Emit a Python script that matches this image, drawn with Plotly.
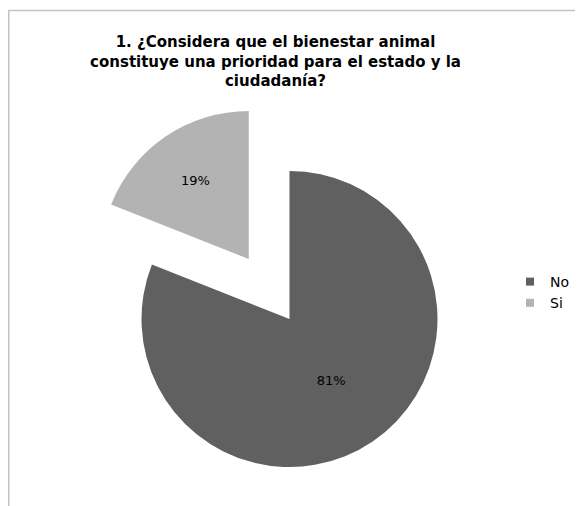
import math
import plotly.graph_objects as go

# ---- data ----
labels = ["No", "Si"]
values = [81, 19]
colors = ["#606060", "#b3b3b3"]
title_lines = [
    "1. ¿Considera que el bienestar animal",
    "constituye una prioridad para el estado y la",
    "ciudadanía?",
]

# ---- layout constants ----
W, H = 583, 506
OFF = 8              # page body margin that shifts the figure on screen
R = 148              # pie radius (px)
CX, CY = 289.5 - OFF, 319 - OFF   # centre of main pie (px from top-left of figure)
PULL_SI = 0.49       # explosion of the "Si" slice, fraction of radius
FONT = "DejaVu Sans"
TRANSPARENT = "rgba(0,0,0,0)"


def dom(cx, cy, r):
    return dict(x=[(cx - r) / W, (cx + r) / W],
                y=[(H - cy - r) / H, (H - cy + r) / H])


total = sum(values)
# "Si" is the last slice (clockwise from 12 o'clock): its bisector lies
# counter-clockwise from 12 o'clock by half of its angular share
half = math.pi * values[1] / total
sx = CX - PULL_SI * R * math.sin(half)
sy = CY - PULL_SI * R * math.cos(half)

common = dict(
    labels=labels,
    values=values,
    sort=False,
    direction="clockwise",
    rotation=0,
    textposition="inside",
    insidetextorientation="horizontal",
    textfont=dict(family=FONT, size=13, color="#000000"),
    showlegend=False,
    hoverinfo="label+percent",
)

fig = go.Figure()
# main pie: "No" slice
fig.add_trace(go.Pie(
    **common,
    marker=dict(colors=[colors[0], TRANSPARENT], line=dict(width=0)),
    texttemplate=["%{percent:.0%}", ""],
    domain=dom(CX, CY, R),
))
# exploded pie: "Si" slice
fig.add_trace(go.Pie(
    **common,
    marker=dict(colors=[TRANSPARENT, colors[1]], line=dict(width=0)),
    texttemplate=["", "%{percent:.0%}"],
    domain=dom(sx, sy, R),
))
# legend entries
for lab, col in zip(labels, colors):
    fig.add_trace(go.Scatter(
        x=[None], y=[None], mode="markers", name=lab,
        marker=dict(symbol="square", size=8, color=col),
        showlegend=True, hoverinfo="skip",
    ))

fig.update_layout(
    width=W, height=H,
    margin=dict(l=0, r=0, t=0, b=0),
    paper_bgcolor="white",
    plot_bgcolor="white",
    font=dict(family=FONT, size=14, color="#000000"),
    title=dict(
        text="<br>".join(title_lines),
        x=267.5 / W, xanchor="center",
        y=1 - 39 / H, yanchor="top",
        font=dict(family=FONT, size=15, color="#000000", weight="bold"),
    ),
    xaxis=dict(visible=False),
    yaxis=dict(visible=False),
    showlegend=True,
    legend=dict(
        x=502 / W, xanchor="left",
        y=1 - 258 / H, yanchor="top",
        bgcolor="rgba(0,0,0,0)",
        font=dict(family=FONT, size=14, color="#000000"),
        traceorder="normal",
        tracegroupgap=0,
    ),
    shapes=[dict(
        type="rect", xref="paper", yref="paper",
        x0=0.75 / W, y0=-0.05, x1=1.05, y1=1 - 2.5 / H,
        line=dict(color="#c4c4c4", width=1.5),
        fillcolor="rgba(0,0,0,0)", layer="below",
    )],
)

fig.write_html("out.html")
